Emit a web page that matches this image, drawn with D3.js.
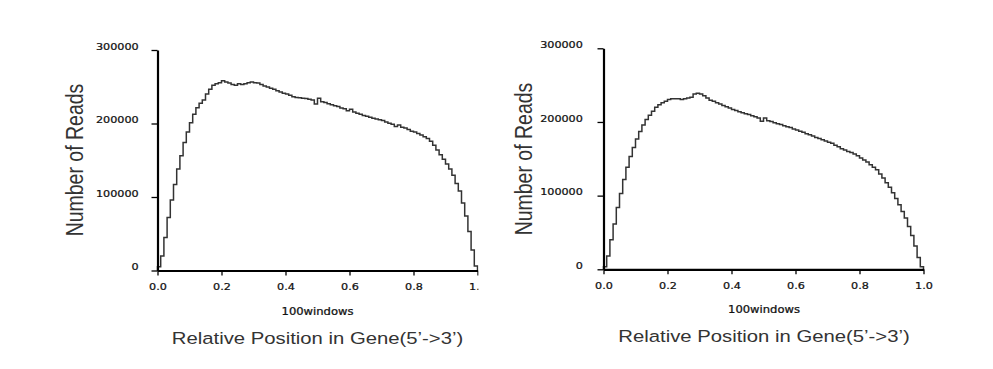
<!DOCTYPE html>
<html>
<head>
<meta charset="utf-8">
<script src="https://cdn.jsdelivr.net/npm/d3@7"></script>
<style>
  body { margin: 0; background: #fff; }
  svg { display: block; }
</style>
</head>
<body>
<svg id="chart" width="993" height="369"></svg>
<script>
// reads per window, 100 windows along the gene body
const leftReads = [5000, 19700, 45000, 72000, 96000, 117000, 138000, 156000, 174000, 188500,
  201000, 212500, 221500, 227500, 232000, 240000, 246500, 252000, 254000, 255500,
  258000, 256500, 255000, 253000, 252000, 254000, 253000, 254000, 255500, 256500,
  255500, 255000, 253000, 251000, 249500, 248000, 246500, 244500, 243000, 241000,
  240000, 238500, 236500, 235500, 235000, 234500, 234000, 233000, 232000, 226500,
  234500, 229500, 228500, 227000, 225500, 224000, 223000, 221000, 220000, 217500,
  219500, 215500, 214000, 212500, 211000, 210000, 208500, 207000, 206000, 205000,
  204000, 202000, 200500, 199000, 196000, 198000, 195000, 194000, 192000, 189500,
  188500, 186500, 184500, 182000, 179500, 176000, 170500, 164000, 157500, 151500,
  145000, 138000, 129500, 118500, 108000, 92000, 74000, 53000, 28000, 6000];

const rightReads = [3500, 18000, 40000, 61500, 84000, 103000, 122000, 138500, 153000, 165500,
  177000, 187000, 196000, 203500, 209000, 214500, 220000, 223500, 226000, 228000,
  230500, 231500, 231500, 231500, 230500, 231500, 232500, 233500, 238000, 239000,
  238000, 235500, 232500, 229500, 228000, 226000, 224500, 222500, 220500, 219000,
  217000, 215500, 214000, 212500, 211000, 210000, 208500, 207000, 205500, 201000,
  205500, 201500, 200500, 199000, 197500, 196500, 195000, 193500, 192500, 190500,
  189000, 187500, 186000, 184000, 182500, 181000, 179000, 177500, 176000, 174000,
  172500, 171000, 168500, 166500, 163500, 162000, 160000, 158500, 156500, 154000,
  151000, 148500, 145500, 142000, 138500, 135000, 129500, 124000, 117500, 111500,
  104000, 96000, 87500, 78500, 69500, 58000, 46000, 31500, 16000, 3500];

const xTicks = [0, 0.2, 0.4, 0.6, 0.8, 1.0];
const yTicks = [0, 100000, 200000, 300000];
const yTitle = "Number of Reads";
const xSub = "100windows";
const xTitle = "Relative Position in Gene(5\u2019->3\u2019)";

const svg = d3.select("#chart");
const stretch = 1.18; // text in the source looks widened

const panels = [
  { reads: leftReads, x0: 157.5, x1: 477.5, y0: 270.5, y1: 50, clip: 478.5,
    ylabX: 75, ylabY: 160, cx: 317.5, subY: 315, titleY: 344, gap: 16 },
  { reads: rightReads, x0: 603.5, x1: 923.5, y0: 269.3, y1: 48.3, clip: 993,
    ylabX: 524, ylabY: 159, cx: 764, subY: 313, titleY: 342, gap: 17.5 }
];

const defs = svg.append("defs");

panels.forEach((p, k) => {
  defs.append("clipPath").attr("id", "clip" + k)
    .append("rect").attr("x", 0).attr("y", 0).attr("width", p.clip).attr("height", 369);

  const g = svg.append("g").attr("clip-path", `url(#clip${k})`);

  const x = d3.scaleLinear().domain([0, 1]).range([p.x0, p.x1]);
  const y = d3.scaleLinear().domain([0, 300000]).range([p.y0, p.y1]);

  // step outline of the histogram
  const pts = [[0, 0]];
  p.reads.forEach((v, i) => pts.push([i / p.reads.length, v]));
  pts.push([1, p.reads[p.reads.length - 1]]);
  pts.push([1, 0]);

  const line = d3.line()
    .x(d => x(d[0]))
    .y(d => y(d[1]))
    .curve(d3.curveStepAfter);

  g.append("path")
    .datum(pts)
    .attr("d", line)
    .attr("fill", "none")
    .attr("stroke", "#333")
    .attr("stroke-width", 1.5);

  // axes
  const yAxis = g.append("g")
    .attr("transform", `translate(${p.x0},0)`)
    .call(d3.axisLeft(y).tickValues(yTicks).tickSize(6).tickSizeOuter(0).tickFormat(d3.format("d")));

  const xAxis = g.append("g")
    .attr("transform", `translate(0,${p.y0})`)
    .call(d3.axisBottom(x).tickValues(xTicks).tickSize(5).tickSizeOuter(0).tickFormat(d3.format(".1f")));

  [yAxis, xAxis].forEach(a => {
    a.select(".domain").attr("stroke", "#000").attr("stroke-width", 2.2);
    a.selectAll(".tick line").attr("stroke", "#000").attr("stroke-width", 1.3);
    a.selectAll(".tick text")
      .attr("font-family", "DejaVu Sans, sans-serif")
      .attr("font-size", 9.5)
      .attr("fill", "#111")
      .attr("stroke", "#111")
      .attr("stroke-width", 0.25);
  });

  yAxis.selectAll(".tick text")
    .attr("x", -p.gap)
    .attr("dy", "-0.1em")
    .attr("transform", `scale(${stretch},1)`);

  xAxis.selectAll(".tick text")
    .attr("y", 12.5)
    .attr("transform", `scale(${stretch},1)`);

  // labels
  g.append("text")
    .attr("transform", `translate(${p.ylabX},${p.ylabY}) scale(${stretch},1) rotate(-90)`)
    .attr("text-anchor", "middle")
    .attr("dy", "0.35em")
    .attr("font-family", "Liberation Sans, Arial, sans-serif")
    .attr("font-size", 19.5)
    .attr("fill", "#333")
    .text(yTitle);

  g.append("text")
    .attr("transform", `translate(${p.cx},${p.subY}) scale(${stretch},1)`)
    .attr("text-anchor", "middle")
    .attr("font-family", "DejaVu Sans, sans-serif")
    .attr("font-size", 9.8)
    .attr("fill", "#111")
    .attr("stroke", "#111")
    .attr("stroke-width", 0.25)
    .text(xSub);

  g.append("text")
    .attr("transform", `translate(${p.cx},${p.titleY}) scale(${stretch},1)`)
    .attr("text-anchor", "middle")
    .attr("font-family", "Liberation Sans, Arial, sans-serif")
    .attr("font-size", 17.2)
    .attr("fill", "#333")
    .text(xTitle);
});
</script>
</body>
</html>
